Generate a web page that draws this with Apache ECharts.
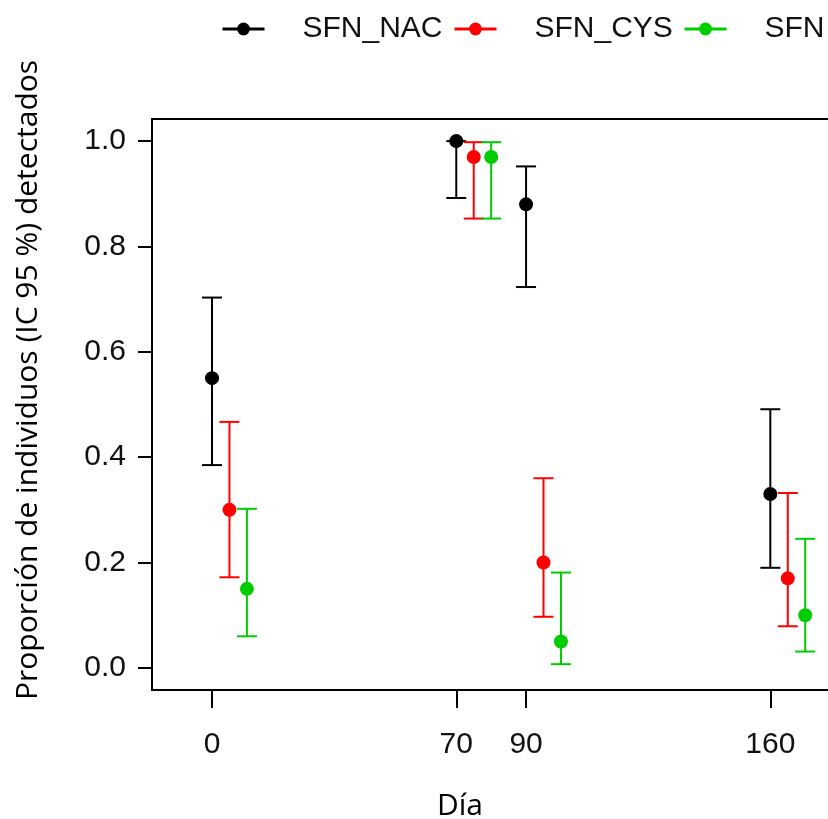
<!DOCTYPE html>
<html>
<head>
<meta charset="utf-8">
<script src="https://cdn.jsdelivr.net/npm/echarts@6/dist/echarts.min.js"></script>
<style>
  html, body { margin: 0; padding: 0; background: #fff; }
  #main { width: 828px; height: 819px; }
</style>
</head>
<body>
<div id="main"></div>
<script>
// days on the x axis
var days = [0, 70, 90, 160];
var dayTicks = [0, 70, 90, 160];
var yTicks = [0, 0.2, 0.4, 0.6, 0.8, 1.0];
var seriesNames = ['SFN_NAC', 'SFN_CYS', 'SFN'];

// proportion detected and 95% CI, one entry per day
var nacMean = [0.55, 1.0, 0.88, 0.33];
var nacLow = [0.385, 0.892, 0.723, 0.19];
var nacHigh = [0.703, 1.0, 0.952, 0.491];

var cysMean = [0.30, 0.97, 0.20, 0.17];
var cysLow = [0.172, 0.853, 0.097, 0.079];
var cysHigh = [0.467, 0.998, 0.36, 0.332];

var sfnMean = [0.15, 0.97, 0.05, 0.10];
var sfnLow = [0.06, 0.853, 0.007, 0.031];
var sfnHigh = [0.302, 0.998, 0.181, 0.245];

var means = [nacMean, cysMean, sfnMean];
var lows = [nacLow, cysLow, sfnLow];
var highs = [nacHigh, cysHigh, sfnHigh];
var colors = ['#000000', '#FF0000', '#00CD00'];
var dodge = [0, 5, 10]; // small shift so groups don't overlap
var legendLeft = [216, 448, 678];

var myChart = echarts.init(document.getElementById('main'));

var series = [];
seriesNames.forEach(function (name, i) {
    // error bars
    series.push({
        type: 'custom',
        name: name + ' IC',
        z: 2,
        data: days.map(function (d, j) { return [d + dodge[i], lows[i][j], highs[i][j]]; }),
        renderItem: function (params, api) {
            var lo = api.coord([api.value(0), api.value(1)]);
            var hi = api.coord([api.value(0), api.value(2)]);
            var cap = 10;
            var st = { stroke: colors[i], lineWidth: 2 };
            return {
                type: 'group',
                children: [
                    { type: 'line', shape: { x1: lo[0], y1: lo[1], x2: hi[0], y2: hi[1] }, style: st },
                    { type: 'line', shape: { x1: lo[0] - cap, y1: lo[1], x2: lo[0] + cap, y2: lo[1] }, style: st },
                    { type: 'line', shape: { x1: hi[0] - cap, y1: hi[1], x2: hi[0] + cap, y2: hi[1] }, style: st }
                ]
            };
        }
    });
    // points
    series.push({
        type: 'line',
        name: name,
        z: 3,
        symbol: 'circle',
        symbolSize: 14,
        showSymbol: true,
        color: colors[i],
        lineStyle: { opacity: 0, color: colors[i] },
        itemStyle: { color: colors[i] },
        data: days.map(function (d, j) { return [d + dodge[i], means[i][j]]; })
    });
});

var option = {
    animation: false,
    backgroundColor: '#fff',
    grid: {
        left: 152, top: 119, width: 723, height: 571,
        outerBoundsMode: 'none',
        show: true, borderColor: '#000', borderWidth: 2, backgroundColor: 'transparent'
    },
    legend: seriesNames.map(function (n, i) {
        return {
            data: [n],
            left: legendLeft[i],
            top: 9,
            itemWidth: 42,
            itemHeight: 16,
            selectedMode: false,
            lineStyle: { width: 3, opacity: 1 },
            textStyle: { fontSize: 30, fontFamily: 'Liberation Sans', color: '#111', padding: [0, 0, 0, 33] }
        };
    }),
    xAxis: {
        type: 'value',
        min: -17.2,
        max: 190,
        splitLine: { show: false },
        axisLine: { show: true, onZero: false, lineStyle: { color: '#000', width: 2 } },
        axisTick: { show: true, customValues: dayTicks, length: 18, lineStyle: { color: '#000', width: 2 } },
        axisLabel: { customValues: dayTicks, fontSize: 30, fontFamily: 'Liberation Sans', color: '#111', margin: 40 }
    },
    yAxis: {
        type: 'value',
        min: -0.042,
        max: 1.042,
        splitLine: { show: false },
        axisLine: { show: true, onZero: false, lineStyle: { color: '#000', width: 2 } },
        axisTick: { show: true, customValues: yTicks, length: 14, lineStyle: { color: '#000', width: 2 } },
        axisLabel: {
            customValues: yTicks, fontSize: 30, fontFamily: 'Liberation Sans', color: '#111', margin: 26,
            formatter: function (v) { return v.toFixed(1); }
        }
    },
    graphic: [
        {
            type: 'text', x: 28, y: 380, rotation: Math.PI / 2,
            style: { text: 'Proporción de individuos (IC 95 %) detectados', fontSize: 30, fontFamily: 'Open Sans', fill: '#000', align: 'center', verticalAlign: 'middle' }
        },
        {
            type: 'text', x: 460, y: 806,
            style: { text: 'Día', fontSize: 30, fontFamily: 'Open Sans', fill: '#000', align: 'center', verticalAlign: 'middle' }
        }
    ],
    series: series
};
myChart.setOption(option);
</script>
</body>
</html>
